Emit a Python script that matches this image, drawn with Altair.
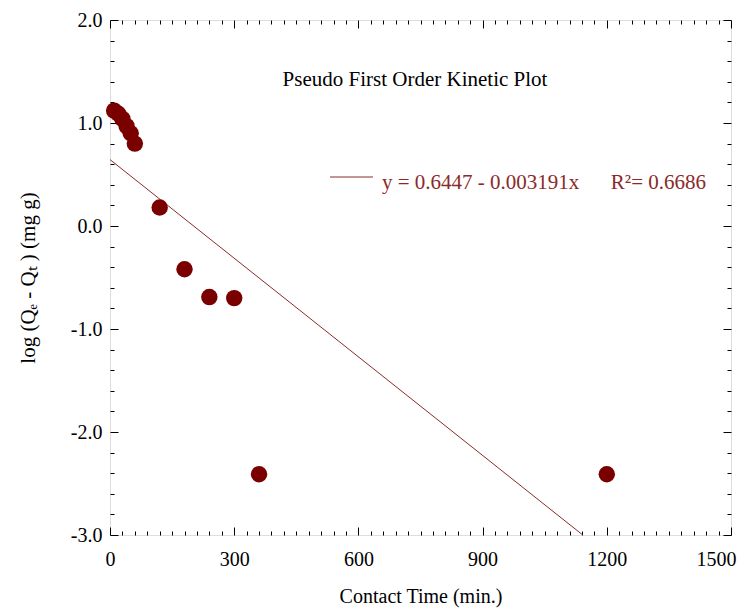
import altair as alt
import pandas as pd

# ---- data ----
time_min = [10, 20, 30, 40, 50, 60, 120, 180, 240, 300, 360, 1200]
log_q = [1.12, 1.09, 1.04, 0.97, 0.90, 0.80, 0.18, -0.42, -0.69, -0.70, -2.41, -2.41]

fit_x = [0, 1142]
fit_y = [0.6447, -3.0]

x_major = [0, 300, 600, 900, 1200, 1500]
x_minor = [v for v in range(30, 1500, 30) if v % 300 != 0]
y_major = [-3.0, -2.0, -1.0, 0.0, 1.0, 2.0]
y_minor = [round(-3 + 0.2 * i, 1) for i in range(1, 25) if (i % 5) != 0]

title_text = "Pseudo First Order Kinetic Plot"
legend_text = "y = 0.6447 - 0.003191x" + "\u00a0" * 6 + "R\u00b2= 0.6686"
x_title = "Contact Time (min.)"
y_title = "log (Q\u2091 - Q\u209c ) (mg g)"

W, H = 621, 515
FONT = "Liberation Serif"
DARK = "#7a0000"
LINE = "#8b2a2a"

df = pd.DataFrame({"t": time_min, "q": log_q})
fit = pd.DataFrame({"t": fit_x, "q": fit_y})
one = pd.DataFrame({"a": [0]})

xs = alt.Scale(domain=[0, 1500], nice=False, zero=False)
ys = alt.Scale(domain=[-3, 2], nice=False, zero=False)


def tick_axis(orient, offset, values, size):
    return alt.Axis(orient=orient, offset=offset, values=values, tickSize=size,
                    labels=False, domain=False, grid=False, title=None,
                    tickColor="black", tickWidth=1)


def tick_layer(xax, yax):
    return alt.Chart(df).mark_point(opacity=0).encode(
        x=alt.X("t:Q", scale=xs, axis=xax),
        y=alt.Y("q:Q", scale=ys, axis=yax),
    )


ticks = [
    tick_layer(tick_axis("top", -H, x_major, 8), tick_axis("right", -W, y_major, 8)),
    tick_layer(tick_axis("top", -H, x_minor, 4), tick_axis("right", -W, y_minor, 4)),
    tick_layer(tick_axis("bottom", -H, x_major, 8), tick_axis("left", -W, y_major, 8)),
    tick_layer(tick_axis("bottom", -H, x_minor, 4), tick_axis("left", -W, y_minor, 4)),
]

points = alt.Chart(df).mark_circle(size=270, color=DARK, opacity=1).encode(
    x=alt.X("t:Q", scale=xs, axis=alt.Axis(
        orient="bottom", values=x_major, format="d", ticks=False, domain=False,
        grid=False, labelFont=FONT, labelFontSize=20, labelColor="black",
        labelPadding=14, title=x_title, titleFont=FONT, titleFontSize=20,
        titleFontWeight="normal", titleColor="black", titlePadding=17,
        labelFlush=True, labelFlushOffset=5)),
    y=alt.Y("q:Q", scale=ys, axis=alt.Axis(
        orient="left", values=y_major,
        labelExpr="replace(format(datum.value, '.1f'), '\u2212', '-')",
        ticks=False, domain=False,
        grid=False, labelFont=FONT, labelFontSize=20, labelColor="black",
        labelPadding=8, title=y_title, titleFont=FONT, titleFontSize=21,
        titleFontWeight="normal", titleColor="black", titlePadding=32,
        labelFlush=False)),
)

line = alt.Chart(fit).mark_line(color=LINE, strokeWidth=1, clip=True).encode(
    x=alt.X("t:Q", scale=xs, axis=None),
    y=alt.Y("q:Q", scale=ys, axis=None),
)

legend_rule = alt.Chart(one).mark_rule(color=LINE, strokeWidth=1).encode(
    x=alt.value(220), x2=alt.value(263), y=alt.value(157)
)
legend_label = alt.Chart(one).mark_text(
    text=legend_text, font=FONT, fontSize=21, color=LINE, align="left",
    baseline="middle").encode(x=alt.value(272), y=alt.value(163))

title_mark = alt.Chart(one).mark_text(
    text=title_text, font=FONT, fontSize=21, color="black", align="center",
    baseline="middle").encode(x=alt.value(305), y=alt.value(60))

chart = alt.layer(
    *ticks, line, points, legend_rule, legend_label, title_mark
).resolve_axis(x="independent", y="independent").properties(
    width=W, height=H,
    autosize=alt.AutoSizeParams(type="none"),
    padding={"left": 102, "top": 12, "right": 12, "bottom": 73},
).configure_view(stroke="black", strokeWidth=1).configure(background="white")

chart.save("out.html", embed_options={"renderer": "svg", "actions": False})
